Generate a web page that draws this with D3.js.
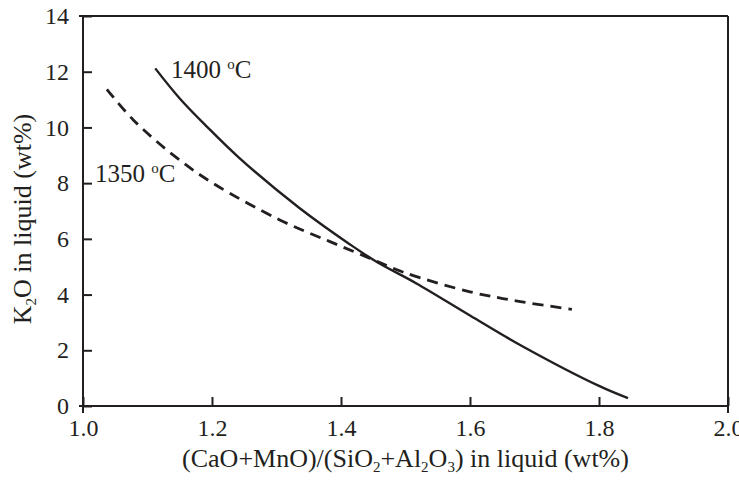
<!DOCTYPE html>
<html>
<head>
<meta charset="utf-8">
<script src="https://cdn.jsdelivr.net/npm/d3@7"></script>
<style>
  body { margin: 0; background: #fff; }
  text { font-family: "Liberation Serif", "Times New Roman", serif; fill: #231f20; }
</style>
</head>
<body>
<div id="chart"></div>
<script>
// values
var ratio1400 = [1.112, 1.150, 1.192, 1.243, 1.336, 1.414, 1.455, 1.517, 1.600, 1.677, 1.800, 1.845];
var k2o1400 = [12.12, 11.04, 10.03, 8.89, 7.10, 5.80, 5.18, 4.40, 3.25, 2.20, 0.72, 0.28];

var ratio1350 = [1.037, 1.078, 1.143, 1.202, 1.305, 1.383, 1.445, 1.497, 1.600, 1.678, 1.758];
var k2o1350 = [11.37, 10.27, 8.95, 7.99, 6.68, 5.90, 5.30, 4.80, 4.10, 3.75, 3.47];

var xTicks = [1.0, 1.2, 1.4, 1.6, 1.8, 2.0];
var yTicks = [0, 2, 4, 6, 8, 10, 12, 14];

var width = 739, height = 483;
var margin = {top: 16, right: 11, bottom: 77, left: 83};
var ink = "#231f20";

var svg = d3.select("#chart").append("svg")
  .attr("width", width).attr("height", height);

var x = d3.scaleLinear().domain([1.0, 2.0]).range([margin.left, width - margin.right]);
var y = d3.scaleLinear().domain([0, 14]).range([height - margin.bottom, margin.top]);

//Frame
var x0 = x(1.0), x1 = x(2.0), y0 = y(0), y1 = y(14);
var frame = svg.append("g").attr("stroke", ink).attr("stroke-width", 2).attr("fill", "none");
frame.append("line").attr("x1", x0 - 4).attr("x2", x1).attr("y1", y1).attr("y2", y1);
frame.append("line").attr("x1", x0 - 4).attr("x2", x1).attr("y1", y0).attr("y2", y0);
frame.append("line").attr("x1", x0).attr("x2", x0).attr("y1", y1).attr("y2", y0 + 7);
frame.append("line").attr("x1", x1).attr("x2", x1).attr("y1", y1).attr("y2", y0 + 7);

//Axes
var xAxis = d3.axisBottom(x).tickValues(xTicks).tickFormat(d3.format(".1f"))
  .tickSizeInner(-9).tickSizeOuter(0).tickPadding(13);
var yAxis = d3.axisLeft(y).tickValues(yTicks).tickFormat(d3.format("d"))
  .tickSizeInner(-9).tickSizeOuter(0).tickPadding(14);

var gx = svg.append("g").attr("transform", "translate(0," + y0 + ")").call(xAxis);
var gy = svg.append("g").attr("transform", "translate(" + x0 + ",0)").call(yAxis);
[gx, gy].forEach(function (g) {
  g.select(".domain").remove();
  g.selectAll(".tick line").attr("stroke", ink).attr("stroke-width", 2);
  g.selectAll(".tick text").attr("font-size", 24).attr("fill", ink);
});

//Curves
var line = d3.line()
  .x(function (d) { return x(d[0]); })
  .y(function (d) { return y(d[1]); })
  .curve(d3.curveCatmullRom.alpha(0.5));

svg.append("path")
  .datum(d3.zip(ratio1400, k2o1400))
  .attr("d", line)
  .attr("fill", "none").attr("stroke", ink).attr("stroke-width", 2.4);

svg.append("path")
  .datum(d3.zip(ratio1350, k2o1350))
  .attr("d", line)
  .attr("fill", "none").attr("stroke", ink).attr("stroke-width", 2.8)
  .attr("stroke-dasharray", "11,7");

//Curve labels
function tempLabel(t, px, py) {
  var txt = svg.append("text").attr("x", px).attr("y", py).attr("font-size", 25);
  txt.append("tspan").text(t + " ");
  txt.append("tspan").attr("font-size", 15).attr("dy", -9).text("o");
  txt.append("tspan").attr("dy", 9).text("C");
}
tempLabel("1400", 171, 78);
tempLabel("1350", 95, 182);

//Axis titles
var xt = svg.append("text").attr("x", (x0 + x1) / 2).attr("y", 467)
  .attr("text-anchor", "middle").attr("font-size", 26);
xt.append("tspan").text("(CaO+MnO)/(SiO");
xt.append("tspan").attr("font-size", 15).attr("dy", 5).text("2");
xt.append("tspan").attr("dy", -5).text("+Al");
xt.append("tspan").attr("font-size", 15).attr("dy", 5).text("2");
xt.append("tspan").attr("dy", -5).text("O");
xt.append("tspan").attr("font-size", 15).attr("dy", 5).text("3");
xt.append("tspan").attr("dy", -5).text(") in liquid (wt%)");

var yt = svg.append("text")
  .attr("transform", "translate(31," + 219 + ") rotate(-90)")
  .attr("text-anchor", "middle").attr("font-size", 26);
yt.append("tspan").text("K");
yt.append("tspan").attr("font-size", 15).attr("dy", 5).text("2");
yt.append("tspan").attr("dy", -5).text("O in liquid (wt%)");
</script>
</body>
</html>
